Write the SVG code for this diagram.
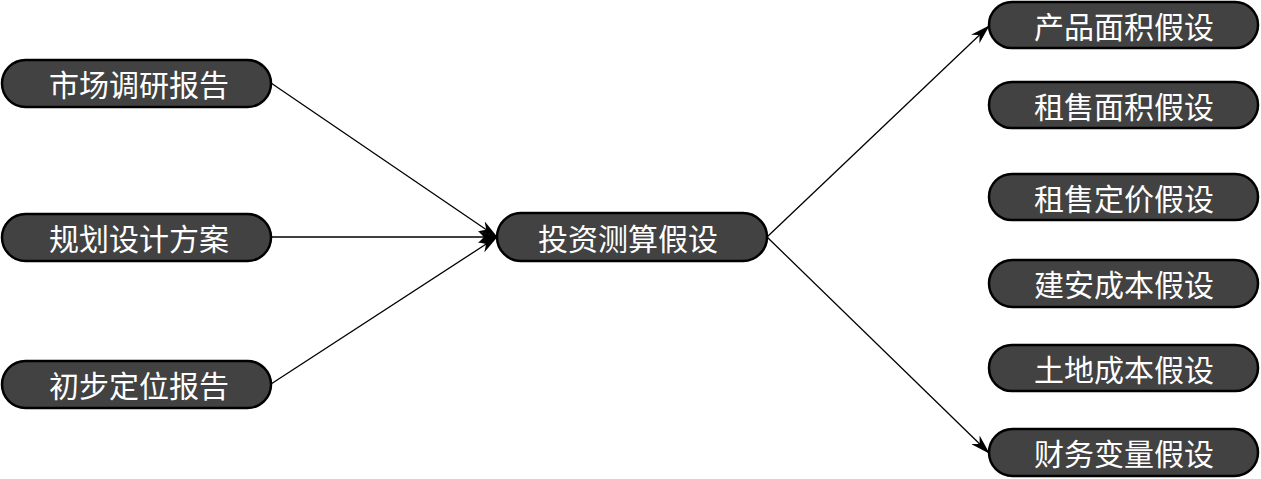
<svg xmlns="http://www.w3.org/2000/svg" width="1261" height="479" viewBox="0 0 1261 479">
<style>
.n rect{fill:#424242;stroke:#000;stroke-width:2.5}
.n text{fill:#fff;font-family:"Noto Sans CJK SC","Noto Sans CJK JP",sans-serif;font-size:30px;text-anchor:middle;dominant-baseline:central}
.c path{fill:none;stroke:#000;stroke-width:1.3;marker-end:url(#ah)}
</style>
<defs>
<marker id="ah" viewBox="0 0 20 12" refX="19" refY="6" markerWidth="20" markerHeight="12" markerUnits="userSpaceOnUse" orient="auto">
<path d="M0,0 L20,6 L0,12 L6,6 Z" fill="#000"/>
</marker>
</defs>
<rect width="1261" height="479" fill="#fff"/>
<g class="c" id="connectors">
<path d="M271,83 L497,237"/>
<path d="M271,237 L497,237"/>
<path d="M271,384 L497,237"/>
<path d="M767,237 L989,26"/>
<path d="M767,237 L989,453"/>
</g>
<g class="n" id="n1"><rect x="2" y="60" width="269" height="47" rx="23.5"/><text x="139" y="83">市场调研报告</text></g>
<g class="n" id="n2"><rect x="2" y="214" width="269" height="47" rx="23.5"/><text x="139" y="237">规划设计方案</text></g>
<g class="n" id="n3"><rect x="2" y="361" width="269" height="47" rx="23.5"/><text x="139" y="384">初步定位报告</text></g>
<g class="n" id="center"><rect x="497" y="213" width="270" height="48" rx="24"/><text x="628" y="237">投资测算假设</text></g>
<g class="n" id="r1"><rect x="989" y="2" width="269" height="46" rx="23"/><text x="1124" y="25">产品面积假设</text></g>
<g class="n" id="r2"><rect x="989" y="82" width="269" height="46" rx="23"/><text x="1124" y="105">租售面积假设</text></g>
<g class="n" id="r3"><rect x="989" y="174" width="269" height="46" rx="23"/><text x="1124" y="197">租售定价假设</text></g>
<g class="n" id="r4"><rect x="989" y="260" width="269" height="47" rx="23.5"/><text x="1124" y="283">建安成本假设</text></g>
<g class="n" id="r5"><rect x="989" y="345" width="269" height="46" rx="23"/><text x="1124" y="368">土地成本假设</text></g>
<g class="n" id="r6"><rect x="989" y="429" width="269" height="47" rx="23.5"/><text x="1124" y="452">财务变量假设</text></g>
</svg>
